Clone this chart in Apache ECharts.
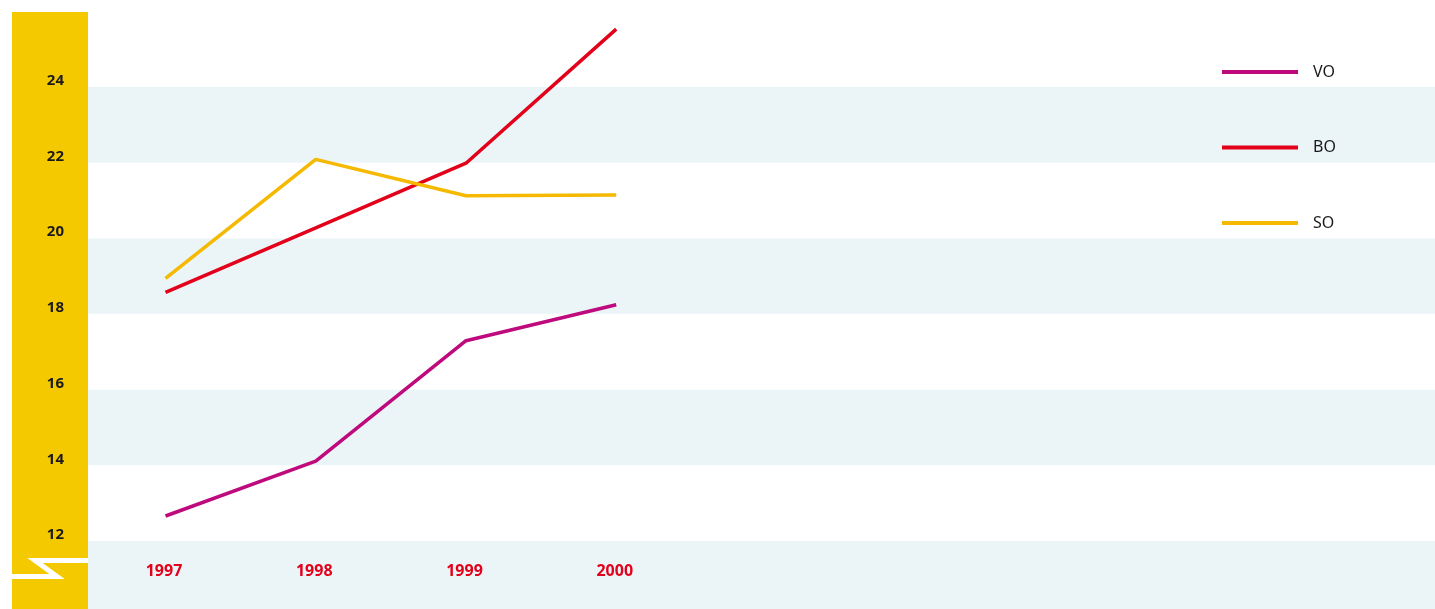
<!DOCTYPE html>
<html>
<head>
<meta charset="utf-8">
<script src="https://cdn.jsdelivr.net/npm/echarts@6/dist/echarts.min.js"></script>
<style>html,body{margin:0;padding:0;background:#fff}#c{width:1435px;height:609px}</style>
</head>
<body>
<div id="c"></div>
<script>
const years = [1997, 1998, 1999, 2000];
const seriesNames = ['VO', 'BO', 'SO'];
const voValues = [12.66, 14.11, 17.29, 18.24];
const boValues = [18.57, 20.27, 21.98, 25.52];
const soValues = [18.94, 22.08, 21.12, 21.14];
const yTicks = [12, 14, 16, 18, 20, 22, 24];

const colors = ['#be0a7c', '#e2001a', '#f4b900'];
const allValues = [voValues, boValues, soValues];

const chart = echarts.init(document.getElementById('c'));
chart.setOption({
  animation: false,
  backgroundColor: '#ffffff',
  textStyle: { fontFamily: 'Noto Sans' },
  grid: { left: 88, right: 0, top: 11, height: 605.7, containLabel: false, outerBoundsMode: 'none' },
  graphic: [
    { type: 'rect', z: -10, shape: { x: 12, y: 12, width: 76, height: 597 }, style: { fill: '#f5c900' } },
    { type: 'polyline', z: -9, shape: { points: [[88, 560.5], [35, 560.5], [57, 576.5], [12, 576.5]] },
      style: { stroke: '#ffffff', lineWidth: 5, fill: null, lineJoin: 'miter' } }
  ],
  legend: {
    data: seriesNames,
    orient: 'vertical',
    left: 1217,
    top: 57,
    icon: 'rect',
    itemWidth: 76,
    itemHeight: 4,
    itemGap: 55.5,
    textStyle: { fontSize: 16, lineHeight: 20, color: '#1a1a1a', padding: [0, 0, 0, 10], fontFamily: 'Noto Sans' }
  },
  xAxis: {
    type: 'value',
    min: 1996.484,
    max: 2005.45,
    offset: -45.2,
    axisLine: { show: false },
    axisTick: { show: false },
    splitLine: { show: false },
    axisLabel: {
      customValues: years,
      margin: 0,
      verticalAlign: 'middle',
      padding: [0, 3, 0, 0],
      color: '#e2001a',
      fontWeight: 'bold',
      fontSize: 16,
      fontFamily: 'Noto Sans',
      formatter: v => String(v)
    }
  },
  yAxis: {
    type: 'value',
    min: 10,
    max: 26,
    interval: 2,
    axisLine: { show: false },
    axisTick: { show: false },
    splitLine: { show: false },
    splitArea: { show: true, areaStyle: { color: ['#ebf4f7', '#ffffff'] } },
    axisLabel: {
      showMinLabel: false,
      showMaxLabel: false,
      margin: 24,
      verticalAlign: 'bottom',
      lineHeight: 12,
      color: '#1a1a1a',
      fontWeight: 'bold',
      fontSize: 15,
      fontFamily: 'Noto Sans',
      formatter: v => (yTicks.indexOf(v) >= 0 ? String(v) : '')
    }
  },
  series: seriesNames.map((name, i) => ({
    name: name,
    type: 'line',
    data: years.map((y, j) => [y, allValues[i][j]]),
    symbol: 'none',
    lineStyle: { color: colors[i], width: 3.5 },
    itemStyle: { color: colors[i] },
    z: 5
  }))
});
</script>
</body>
</html>
